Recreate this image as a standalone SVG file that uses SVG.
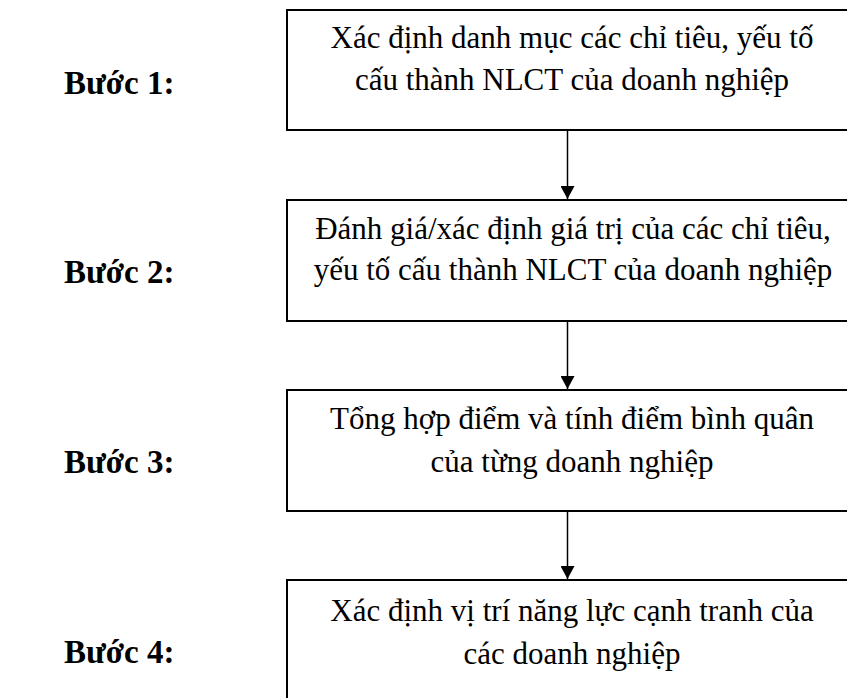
<svg xmlns="http://www.w3.org/2000/svg" width="847" height="698" viewBox="0 0 847 698">
<defs>
<style>
.box{fill:#fff;stroke:#000;stroke-width:2}
.t{font-family:"Liberation Serif","Times New Roman",serif;font-size:31px;fill:#000;text-anchor:middle}
.lbl{font-family:"Liberation Serif","Times New Roman",serif;font-size:33px;font-weight:bold;fill:#000}
.conn{stroke:#000;stroke-width:1.5;fill:none}
</style>
<marker id="ah" markerWidth="14" markerHeight="14" refX="13" refY="7" orient="auto" markerUnits="userSpaceOnUse">
<path d="M0,0 L13,7 L0,14 Z" fill="#000"/>
</marker>
</defs>
<g id="connectors">
<line class="conn" x1="567.5" y1="130" x2="567.5" y2="199" marker-end="url(#ah)"/>
<line class="conn" x1="567.5" y1="321" x2="567.5" y2="389" marker-end="url(#ah)"/>
<line class="conn" x1="567.5" y1="511" x2="567.5" y2="579" marker-end="url(#ah)"/>
</g>
<g id="step1">
<rect class="box" x="287" y="10" width="570" height="120"/>
<text class="t" x="572" y="48">Xác định danh mục các chỉ tiêu, yếu tố</text>
<text class="t" x="572" y="90">cấu thành NLCT của doanh nghiệp</text>
<text class="lbl" x="64" y="94">Bước 1:</text>
</g>
<g id="step2">
<rect class="box" x="287" y="200" width="570" height="121"/>
<text class="t" x="573" y="239">Đánh giá/xác định giá trị của các chỉ tiêu,</text>
<text class="t" x="573" y="280">yếu tố cấu thành NLCT của doanh nghiệp</text>
<text class="lbl" x="64" y="283">Bước 2:</text>
</g>
<g id="step3">
<rect class="box" x="287" y="390" width="570" height="121"/>
<text class="t" x="572" y="429">Tổng hợp điểm và tính điểm bình quân</text>
<text class="t" x="572" y="472">của từng doanh nghiệp</text>
<text class="lbl" x="64" y="473">Bước 3:</text>
</g>
<g id="step4">
<rect class="box" x="287" y="580" width="570" height="130"/>
<text class="t" x="572" y="621">Xác định vị trí năng lực cạnh tranh của</text>
<text class="t" x="572" y="664">các doanh nghiệp</text>
<text class="lbl" x="64" y="663">Bước 4:</text>
</g>
</svg>
